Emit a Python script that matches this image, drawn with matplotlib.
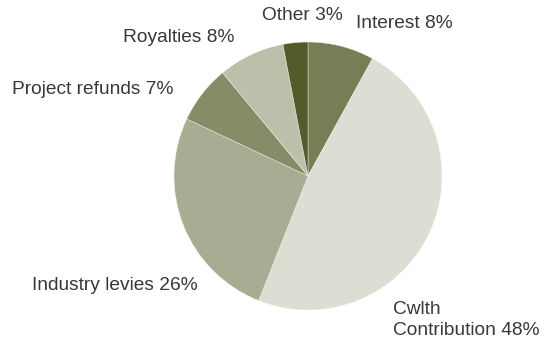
import matplotlib
matplotlib.use("Agg")
import matplotlib.pyplot as plt

# funding sources, clockwise from 12 o'clock
labels = ["Interest 8%", "Cwlth\nContribution 48%", "Industry levies 26%",
          "Project refunds 7%", "Royalties 8%", "Other 3%"]
shares = [8, 48, 26, 7, 8, 3]
colors = ["#777e56", "#dcddd3", "#a9ac93", "#868b68", "#bdbfab", "#525b2a"]

# label anchors (left edge, vertical centre) in pixel space
label_x = [356, 393, 32, 12, 123, 262]
label_y = [24, 320, 285, 90, 38, 16]

W, H = 555, 344
fig = plt.figure(figsize=(W / 100, H / 100), dpi=100)
ax = fig.add_axes([0, 0, 1, 1])

ax.pie(shares, colors=colors, startangle=90, counterclock=False,
       center=(308, H - 176), radius=134,
       wedgeprops=dict(linewidth=0.3, edgecolor="#f4f4f0"))

for lab, x, y in zip(labels, label_x, label_y):
    ax.text(x, H - y, lab, ha="left", va="center", fontsize=13.8,
            family="Liberation Sans", color="#383838", linespacing=1.3)

ax.set_xlim(0, W)
ax.set_ylim(0, H)
ax.set_aspect("equal")
ax.axis("off")

fig.savefig("out.png", dpi=100)
